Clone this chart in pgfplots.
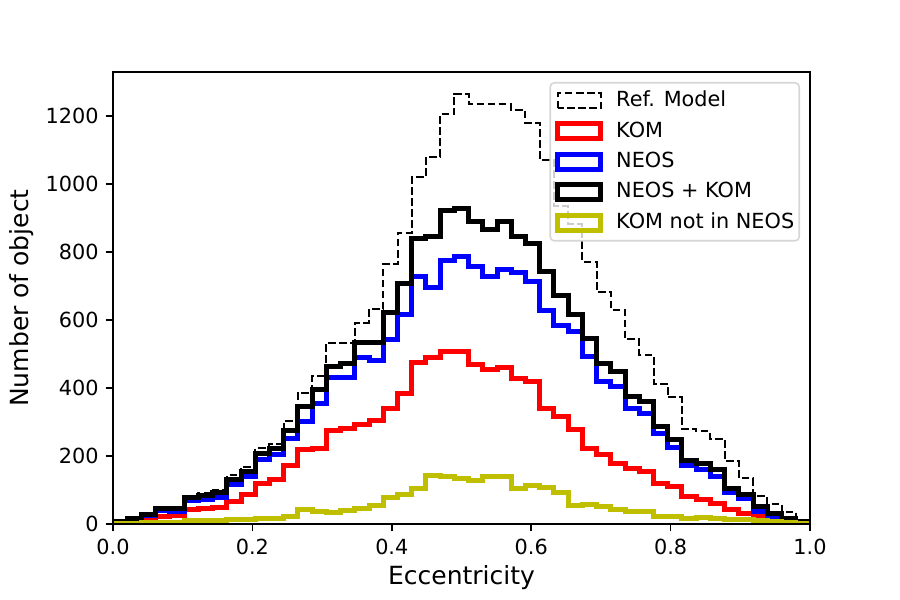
\documentclass[border=0pt]{standalone}
\usepackage{fontspec}
\setmainfont{DejaVu Sans}
\usepackage{pgfplots}
\usepackage{pgfplotstable}
\pgfplotsset{compat=1.18}
\definecolor{mplyellow}{rgb}{0.75,0.75,0}
\definecolor{legframe}{HTML}{D6D6D6}

% 49 bins on [0,1]; e = left bin edge, last two rows close the outline
\pgfplotstableread{
e      ref  kom  neos both kni
0.0000 0    0    0    0    0
0.0000 8    2    5    8    1
0.0204 17   5    12   15   2
0.0408 30   12   25   27   3
0.0612 48   22   40   45   4
0.0816 50   26   36   45   5
0.1020 80   43   68   77   9
0.1224 90   46   71   85   9
0.1429 100  49   77   93   10
0.1633 143  66   117  131  14
0.1837 169  87   141  154  14
0.2041 222  119  190  208  16
0.2245 234  131  203  223  15
0.2449 304  172  252  276  21
0.2653 386  218  301  345  43
0.2857 436  223  355  396  38
0.3061 533  274  430  463  34
0.3265 533  281  430  473  41
0.3469 592  293  489  533  46
0.3673 631  303  482  533  53
0.3878 764  339  543  622  77
0.4082 857  385  615  706  88
0.4286 1021 475  727  840  105
0.4490 1080 490  696  845  142
0.4694 1205 507  776  921  140
0.4898 1265 507  786  928  134
0.5102 1234 468  757  889  129
0.5306 1234 453  727  867  139
0.5510 1234 461  747  889  141
0.5714 1218 429  739  845  105
0.5918 1180 419  713  825  112
0.6122 1070 340  629  742  108
0.6327 935  316  585  671  92
0.6531 882  278  566  615  54
0.6735 771  223  492  546  58
0.6939 683  203  419  471  50
0.7143 629  178  404  448  42
0.7347 543  164  340  375  36
0.7551 497  154  326  360  36
0.7755 412  118  265  286  23
0.7959 372  110  225  247  23
0.8163 280  82   171  187  17
0.8367 272  73   159  178  18
0.8571 251  59   141  159  16
0.8776 186  44   92   105  12
0.8980 134  31   74   88   12
0.9184 83   21   38   51   10
0.9388 60   17   19   31   8
0.9592 36   10   14   17   4
0.9796 5    5    6    7    2
1.0000 5    5    6    7    2
1.0000 0    0    0    0    0
}\hist

\begin{document}
\begin{tikzpicture}
\useasboundingbox (-56.5pt,-38pt) rectangle (393.5pt,262pt);
\begin{axis}[
  at={(0,0)}, anchor=south west,
  scale only axis, width=348.5pt, height=226pt,
  xmin=0, xmax=1, ymin=0, ymax=1329,
  xtick={0,0.2,0.4,0.6,0.8,1},
  xticklabels={0.0,0.2,0.4,0.6,0.8,1.0},
  ytick={0,200,400,600,800,1000,1200},
  scaled ticks=false,
  /pgf/number format/1000 sep={},
  /pgf/number format/assume math mode=true,
  tick align=outside, tick pos=left,
  major tick length=3.65pt,
  axis line style={line width=0.83pt},
  every tick/.style={line width=0.83pt, black},
  tick label style={font=\fontsize{10.4}{12}\selectfont},
  xticklabel style={yshift=-0.5pt},
  xlabel={Eccentricity}, ylabel={Number of object},
  label style={font=\fontsize{12.5}{15}\selectfont},
  xlabel style={at={(axis description cs:0.5,-0.1195)}, anchor=center},
  ylabel style={at={(axis description cs:-0.1306,0.5)}, anchor=center},
  axis on top,
  legend image code/.code={\draw[sharp corners, line join=miter, #1] (0pt,-3.75pt) rectangle (21.5pt,3.75pt);},
  legend cell align=left,
  legend style={at={(rel axis cs:1,1)}, anchor=north east, xshift=-5pt, yshift=-5pt,
    draw=legframe, line width=0.8pt, rounded corners=2pt, fill=white, fill opacity=0.8,
    draw opacity=1, text opacity=1, inner xsep=2.5pt, inner ysep=4pt,
    row sep=5pt, column sep=6.5pt,
    font=\fontsize{10.4}{12}\selectfont,
    nodes={inner sep=0pt, text height=8pt, text depth=2.2pt}},
  hist/.style={const plot, line width=2.5pt, line join=miter, line cap=butt, mark=none},
]
\addplot[const plot, mark=none, black, line width=1pt, dash pattern=on 3.85pt off 1.66pt]
  table[x=e, y=ref] {\hist};
\addlegendentry{Ref. Model}
\addplot[hist, red] table[x=e, y=kom] {\hist};
\addlegendentry{KOM}
\addplot[hist, blue] table[x=e, y=neos] {\hist};
\addlegendentry{NEOS}
\addplot[hist, black] table[x=e, y=both] {\hist};
\addlegendentry{NEOS + KOM}
\addplot[hist, mplyellow] table[x=e, y=kni] {\hist};
\addlegendentry{KOM not in NEOS}
\end{axis}
\end{tikzpicture}
\end{document}
